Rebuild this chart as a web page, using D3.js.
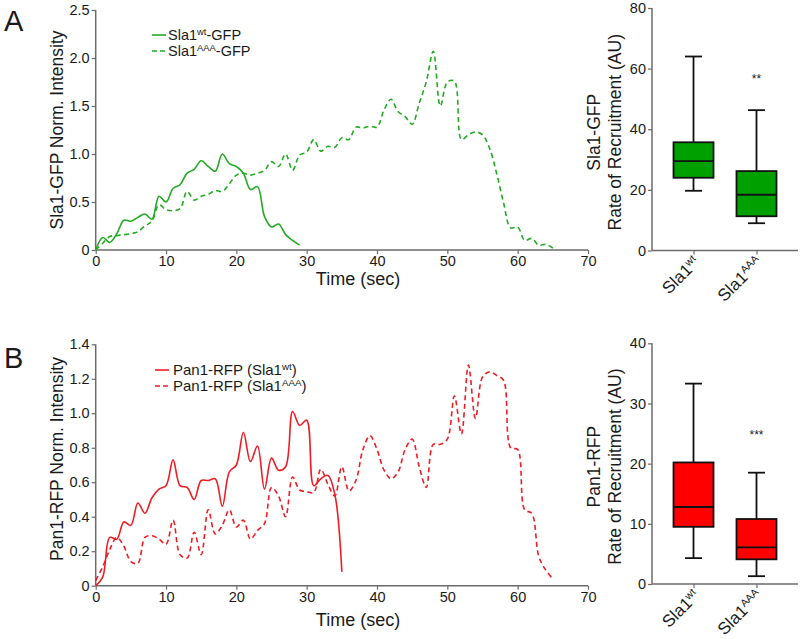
<!DOCTYPE html>
<html><head><meta charset="utf-8">
<script src="https://cdn.jsdelivr.net/npm/d3@7"></script>
<style>
body{margin:0;background:#fff;}
text{font-family:"Liberation Sans",Arial,sans-serif;fill:#1a1a1a;}
</style></head>
<body><svg id="c" width="800" height="639"></svg>
<script>
// ---------- DATA ----------
const xTicks = [0,10,20,30,40,50,60,70];
const yTicksA = [0,0.5,1.0,1.5,2.0,2.5];
const yTicksB = [0,0.2,0.4,0.6,0.8,1.0,1.2,1.4];
const boxTicksA = [0,20,40,60,80];
const boxTicksB = [0,10,20,30,40];
const boxCats = ["wt","AAA"];

const sla1Wt = [0,0.13,0.08,0.17,0.31,0.30,0.34,0.375,0.32,0.56,0.50,0.64,0.68,0.80,0.84,0.93,0.87,0.82,1.0,0.90,0.87,0.80,0.63,0.66,0.35,0.24,0.27,0.16,0.10,0.05];
const sla1AAA = [0,0.07,0.14,0.15,0.16,0.17,0.19,0.25,0.30,0.47,0.42,0.41,0.43,0.61,0.52,0.56,0.58,0.62,0.61,0.69,0.78,0.80,0.78,0.80,0.83,0.92,0.87,1.0,0.83,0.99,1.02,1.15,1.03,1.08,1.07,1.17,1.15,1.28,1.27,1.29,1.28,1.46,1.57,1.44,1.39,1.31,1.53,1.75,2.07,1.50,1.75,1.76,1.15,1.20,1.23,1.20,1.06,0.80,0.49,0.23,0.24,0.10,0.12,0.05,0.06,0.02];
const pan1Wt = [0,0.05,0.28,0.27,0.37,0.35,0.48,0.42,0.51,0.56,0.58,0.73,0.58,0.57,0.50,0.61,0.61,0.62,0.46,0.66,0.70,0.89,0.72,0.81,0.56,0.74,0.67,0.69,1.01,0.93,0.96,0.58,0.62,0.64,0.53,0.08];
const pan1AAA = [0.03,0.11,0.21,0.28,0.23,0.14,0.13,0.28,0.29,0.27,0.24,0.38,0.18,0.16,0.31,0.18,0.44,0.30,0.35,0.44,0.34,0.38,0.27,0.32,0.36,0.57,0.52,0.40,0.63,0.555,0.545,0.54,0.675,0.59,0.52,0.69,0.55,0.61,0.79,0.87,0.79,0.67,0.62,0.66,0.79,0.85,0.69,0.57,0.82,0.82,0.85,1.10,0.88,1.28,0.97,1.21,1.24,1.22,1.19,0.80,0.79,0.44,0.42,0.17,0.09,0.04];

// box stats: [whiskerLow, Q1, median, Q3, whiskerHigh]
const boxSla1 = [[19.7,24,29.5,35.7,64],[9,11.3,18.4,26.2,46.3]];
const boxPan1 = [[4.3,9.5,12.8,20.2,33.3],[1.3,4.1,6.1,10.8,18.5]];
const sigA = "**", sigAval = 57;
const sigB = "***", sigBval = 25;

// ---------- DRAW ----------
const svg = d3.select("#c");
const GREEN_L = "#22aa22", GREEN_F = "#00a000", RED_L = "#ee1c24", RED_F = "#ff0000";
const AXC = "#6b6b6b";

function styleAxis(g){
  g.select(".domain").attr("stroke",AXC).attr("stroke-width",1.5);
  g.selectAll(".tick line").attr("stroke",AXC).attr("stroke-width",1.2);
  g.selectAll(".tick text").attr("font-size",14.5).attr("fill","#1a1a1a").attr("font-family","Liberation Sans, Arial, sans-serif");
}
const fmt = d => d===0 ? "0" : d3.format(".1f")(d);

function lineChart(y0, y1, yTicks, s1, s2, color, leg, legX, legY, legDx, legFs){
  const x = d3.scaleLinear().domain([0,70]).range([95.7,588]);
  const y = d3.scaleLinear().domain([0,yTicks[yTicks.length-1]]).range([y0,y1]);
  const gx = svg.append("g").attr("transform",`translate(0,${y0})`)
    .call(d3.axisBottom(x).tickValues(xTicks).tickSize(4).tickPadding(2).tickFormat(d3.format("d")));
  styleAxis(gx);
  const gy = svg.append("g").attr("transform",`translate(95.7,0)`)
    .call(d3.axisLeft(y).tickValues(yTicks).tickSize(4).tickPadding(2).tickFormat(fmt));
  styleAxis(gy);
  gy.select(".domain").attr("d",`M-0,${y0}V${y1}`);
  gx.select(".domain").attr("d",`M95.7,0H588`);
  const line = d3.line().x((d,i)=>x(i)).y(d=>y(d)).curve(d3.curveCatmullRom.alpha(0.5));
  svg.append("path").datum(s1).attr("d",line).attr("fill","none").attr("stroke",color).attr("stroke-width",1.6);
  svg.append("path").datum(s2).attr("d",line).attr("fill","none").attr("stroke",color).attr("stroke-width",1.6).attr("stroke-dasharray","5,3.5");
  // legend
  leg.forEach((l,i)=>{
    const yy = legY + i*16;
    svg.append("line").attr("x1",legX).attr("x2",legX+14).attr("y1",yy).attr("y2",yy)
      .attr("stroke",color).attr("stroke-width",1.6).attr("stroke-dasharray", i===1?"5,3":null);
    const t = svg.append("text").attr("x",legX+legDx).attr("y",yy+5).attr("font-size",legFs);
    t.append("tspan").text(l[0]);
    t.append("tspan").attr("dy",-5).attr("font-size",legFs*0.65).text(l[1]);
    t.append("tspan").attr("dy",5).text(l[2]);
  });
}

function boxChart(y0, y1, ticks, stats, fill, sig, sigVal, t1, t2){
  const x = d3.scalePoint().domain(boxCats).range([652,798]).padding(0.659);
  const y = d3.scaleLinear().domain([0,ticks[ticks.length-1]]).range([y0,y1]);
  const gx = svg.append("g").attr("transform",`translate(0,${y0})`)
    .call(d3.axisBottom(x).tickSize(4).tickFormat(""));
  styleAxis(gx);
  gx.select(".domain").attr("d","M652,0H798");
  const gy = svg.append("g").attr("transform",`translate(652,0)`)
    .call(d3.axisLeft(y).tickValues(ticks).tickSize(4).tickPadding(2).tickFormat(d3.format("d")));
  styleAxis(gy);
  gy.select(".domain").attr("d",`M0,${y0}V${y1}`);
  const bw = 40, cw = 17;
  stats.forEach((s,i)=>{
    const cx = x(boxCats[i]);
    const g = svg.append("g").attr("stroke","#111").attr("stroke-width",1.8);
    g.append("line").attr("x1",cx).attr("x2",cx).attr("y1",y(s[0])).attr("y2",y(s[4]));
    g.append("line").attr("x1",cx-cw/2).attr("x2",cx+cw/2).attr("y1",y(s[0])).attr("y2",y(s[0]));
    g.append("line").attr("x1",cx-cw/2).attr("x2",cx+cw/2).attr("y1",y(s[4])).attr("y2",y(s[4]));
    g.append("rect").attr("x",cx-bw/2).attr("width",bw).attr("y",y(s[3])).attr("height",y(s[1])-y(s[3])).attr("fill",fill);
    g.append("line").attr("x1",cx-bw/2).attr("x2",cx+bw/2).attr("y1",y(s[2])).attr("y2",y(s[2]));
  });
  svg.append("text").attr("x",x("AAA")).attr("y",y(sigVal)+5).attr("text-anchor","middle").attr("font-size",12).attr("fill","#333").text(sig);
  // category labels
  const labs = [["Sla1","wt"],["Sla1","AAA"]];
  labs.forEach((l,i)=>{
    const cx = x(boxCats[i]);
    const t = svg.append("text").attr("transform",`translate(${cx+7},${y0+13}) rotate(-45)`).attr("text-anchor","end").attr("font-size",17);
    t.append("tspan").text(l[0]);
    t.append("tspan").attr("dy",-6).attr("font-size",10.5).text(l[1]);
  });
  // y title
  const cy = (y0+y1)/2 + 3;
  svg.append("text").attr("transform",`translate(600,${cy}) rotate(-90)`).attr("text-anchor","middle").attr("font-size",17.5).text(t1);
  svg.append("text").attr("transform",`translate(621,${cy}) rotate(-90)`).attr("text-anchor","middle").attr("font-size",17.5).text(t2);
}

lineChart(250, 10, yTicksA, sla1Wt, sla1AAA, GREEN_L, [["Sla1","wt","-GFP"],["Sla1","AAA","-GFP"]], 152, 35, 16, 14.5);
lineChart(585.7, 344.3, yTicksB, pan1Wt, pan1AAA, RED_L, [["Pan1-RFP (Sla1","wt",")"],["Pan1-RFP (Sla1","AAA",")"]], 155, 370, 18, 15);

// axis titles for line charts
svg.append("text").attr("transform","translate(63,130) rotate(-90)").attr("text-anchor","middle").attr("font-size",17.5).text("Sla1-GFP Norm. Intensity");
svg.append("text").attr("transform","translate(63,459) rotate(-90)").attr("text-anchor","middle").attr("font-size",17.5).text("Pan1-RFP Norm. Intensity");
svg.append("text").attr("x",358).attr("y",285).attr("text-anchor","middle").attr("font-size",18).text("Time (sec)");
svg.append("text").attr("x",358).attr("y",626).attr("text-anchor","middle").attr("font-size",18).text("Time (sec)");

boxChart(250.5, 8, boxTicksA, boxSla1, GREEN_F, sigA, sigAval, "Sla1-GFP", "Rate of Recruitment (AU)");
boxChart(584, 343.3, boxTicksB, boxPan1, RED_F, sigB, sigBval, "Pan1-RFP", "Rate of Recruitment (AU)");

// panel letters
svg.append("text").attr("x",4).attr("y",31).attr("font-size",29).text("A");
svg.append("text").attr("x",4).attr("y",368).attr("font-size",29).text("B");
</script></body></html>
